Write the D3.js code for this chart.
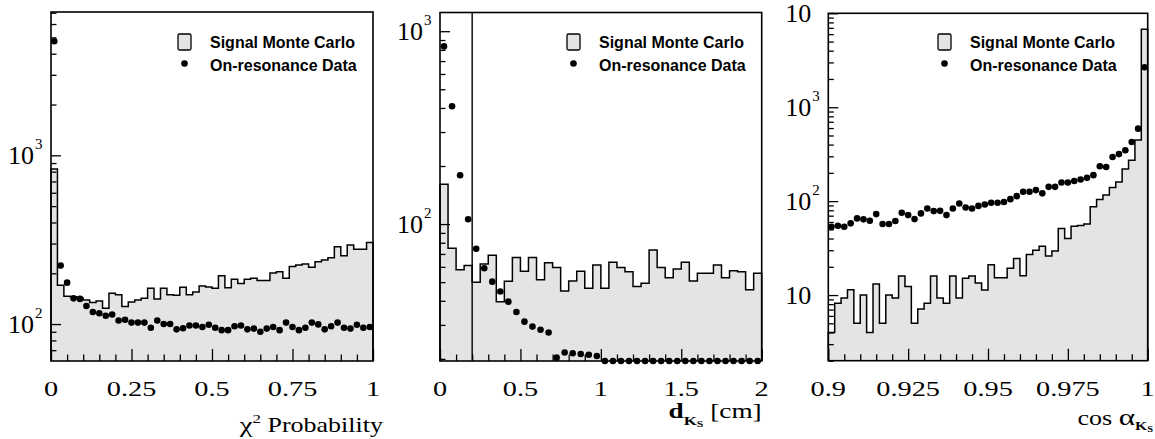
<!DOCTYPE html>
<html>
<head>
<meta charset="utf-8">
<script src="https://cdn.jsdelivr.net/npm/d3@7"></script>
<style>
  body { margin: 0; background: #fff; }
  svg { display: block; }
</style>
</head>
<body>
<script>
// chi2 probability: 50 bins on [0, 1]
const chiMC = [830, 170, 146, 145, 142, 139, 134, 137, 124, 152, 149, 127, 135, 139, 142, 163, 141, 163, 149, 148,
  165, 149, 155, 168, 166, 163, 193, 164, 184, 174, 184, 187, 181, 181, 201, 204, 187, 219, 224, 227,
  217, 234, 240, 247, 287, 254, 294, 278, 278, 304];
const chiData = [4740, 222, 176, 142, 141, 128, 118, 116, 112, 114, 105, 106, 102, 102, 102, 95, 105, 100, 100, 93,
  94.5, 98, 98, 96, 99, 95, 92, 92, 97, 98, 93, 94, 90, 94, 96, 92, 102, 96, 92, 95,
  102, 99.5, 93, 97, 102, 95, 94, 99, 95, 96];
const chiXTicks = [0, 0.25, 0.5, 0.75, 1];
const chiXLabels = ['0', '0.25', '0.5', '0.75', '1'];
const chiYTicks = [100, 1000];
const chiYLabels = [['10', '2'], ['10', '3']];

// d(Ks): 40 bins on [0, 2]
const dMC = [161, 75, 58, 61, 50, 62, 69, 39.5, 50.5, 67, 57, 67, 51.5, 63, 59.5, 45, 50.7, 57, 46.5, 61.4,
  46.5, 63.4, 59.5, 56.6, 47.4, 49.3, 73.4, 59.5, 52.7, 58.5, 63.4, 50.7, 55.6, 55.6, 61.4, 52.7, 57.3, 56.6, 45.6, 55.6];
const dData = [834, 408, 179, 106, 74.5, 59, 50.3, 44.7, 39.6, 35, 31.2, 29.4, 28.3, 27.4, 20.3, 21.6, 21.4, 21.2, 21, 20.7,
  0, 0, 0, 0, 0, 0, 0, 0, 0, 0, 0, 0, 0, 0, 0, 0, 0, 0, 0, 0];
const dXTicks = [0, 0.5, 1, 1.5, 2];
const dXLabels = ['0', '0.5', '1', '1.5', '2'];
const dYTicks = [100, 1000];
const dYLabels = [['10', '2'], ['10', '3']];
const dCut = 0.2;

// cos(alpha Ks): 50 bins on [0.9, 1]
const cosMC = [4.0, 8.2, 9.3, 11.4, 5.0, 10, 4.0, 13.1, 5.0, 10, 9.3, 16, 12.3, 5.0, 7.1, 8.2, 16, 9.3, 8.2, 16,
  9.3, 15.1, 16, 13.4, 11.3, 21, 15.3, 15.3, 19.3, 24.5, 16.1, 27, 30, 33, 26, 29.5, 51, 40, 54, 55,
  57, 87, 104, 116, 140, 160, 220, 272, 448, 6750];
const cosData = [53.4, 54.7, 53.4, 58, 65.5, 64, 61.8, 72.8, 57, 57, 61.4, 75.2, 71, 64.4, 74, 83.6, 78.3, 78.8, 71, 83.6,
  94.5, 85.7, 83.6, 89, 92, 96, 96, 98, 105, 113, 126, 126, 131, 121, 142, 142, 158, 158, 164, 170,
  177, 189, 235, 231, 295, 317, 348, 427, 591, 2665];
const cosXTicks = [0.9, 0.925, 0.95, 0.975, 1];
const cosXLabels = ['0.9', '0.925', '0.95', '0.975', '1'];
const cosYTicks = [10, 100, 1000, 10000];
const cosYLabels = [['10', ''], ['10', '2'], ['10', '3'], ['10', '']];

const legendLabels = ['Signal Monte Carlo', 'On-resonance Data'];

const serif = '"Liberation Serif", "Times New Roman", serif';
const sans = '"Liberation Sans", Arial, Helvetica, sans-serif';
const histFill = '#e4e4e4';

const svg = d3.select('body')
  .append('svg')
  .attr('width', 1155)
  .attr('height', 439);

const panels = [
  { left: 51, right: 373, top: 12, bottom: 361, xDomain: [0, 1], yDomain: [60.4, 7070],
    mc: chiMC, data: chiData, xTicks: chiXTicks, xLabels: chiXLabels, xMinor: 0.05,
    yTicks: chiYTicks, yLabels: chiYLabels, legendX: 178, title: 'chi' },
  { left: 440, right: 761.7, top: 12.5, bottom: 361, xDomain: [0, 2], yDomain: [19.5, 1250],
    mc: dMC, data: dData, xTicks: dXTicks, xLabels: dXLabels, xMinor: 0.1,
    yTicks: dYTicks, yLabels: dYLabels, legendX: 567, title: 'd', cut: dCut },
  { left: 828.3, right: 1147.7, top: 13.3, bottom: 360.7, xDomain: [0.9, 1], yDomain: [2, 10000],
    mc: cosMC, data: cosData, xTicks: cosXTicks, xLabels: cosXLabels, xMinor: 0.005,
    yTicks: cosYTicks, yLabels: cosYLabels, legendX: 938, title: 'cos' }
];

panels.forEach((p) => {
  const x = d3.scaleLinear().domain(p.xDomain).range([p.left, p.right]);
  const y = d3.scaleLog().domain(p.yDomain).range([p.bottom, p.top]).clamp(true);
  const nb = p.mc.length;
  const bw = (p.xDomain[1] - p.xDomain[0]) / nb;
  const lo = p.xDomain[0];
  const hi = p.xDomain[1];

  const g = svg.append('g');

  // histogram (step shape)
  const steps = p.mc.map((v, i) => ({ x: lo + i * bw, v: v }));
  const outline = [{ x: lo, v: p.yDomain[0] }].concat(steps, [{ x: hi, v: p.mc[nb - 1] }, { x: hi, v: p.yDomain[0] }]);

  g.append('path')
    .datum(steps.concat([{ x: hi, v: p.mc[nb - 1] }]))
    .attr('d', d3.area()
      .x((d) => x(d.x))
      .y0(p.bottom)
      .y1((d) => y(d.v))
      .curve(d3.curveStepAfter))
    .style('fill', histFill)
    .style('stroke', 'none');

  g.append('path')
    .datum(outline)
    .attr('d', d3.line()
      .x((d) => x(d.x))
      .y((d) => y(d.v))
      .curve(d3.curveStepAfter))
    .style('fill', 'none')
    .style('stroke', '#000')
    .style('stroke-width', 1.5);

  // frame
  g.append('rect')
    .attr('x', p.left)
    .attr('y', p.top)
    .attr('width', p.right - p.left)
    .attr('height', p.bottom - p.top)
    .style('fill', 'none')
    .style('stroke', '#000')
    .style('stroke-width', 1.6);

  // x ticks (inward)
  const xMinorVals = d3.range(lo, hi + bw / 10, p.xMinor).filter((v) => !p.xTicks.some((t) => Math.abs(t - v) < 1e-9));
  g.append('g')
    .attr('transform', 'translate(0,' + p.bottom + ')')
    .call(d3.axisBottom(x).tickValues(xMinorVals).tickSize(-6.5).tickFormat(''))
    .call((a) => a.select('.domain').remove());
  g.append('g')
    .attr('transform', 'translate(0,' + p.bottom + ')')
    .call(d3.axisBottom(x).tickValues(p.xTicks).tickSize(-12).tickFormat(''))
    .call((a) => a.select('.domain').remove());

  // y ticks (inward)
  const yMinorVals = y.ticks().filter((v) => !p.yTicks.includes(v) && v >= p.yDomain[0] && v <= p.yDomain[1]);
  g.append('g')
    .attr('transform', 'translate(' + p.left + ',0)')
    .call(d3.axisLeft(y).tickValues(yMinorVals).tickSize(-5.5).tickFormat(''))
    .call((a) => a.select('.domain').remove());
  g.append('g')
    .attr('transform', 'translate(' + p.left + ',0)')
    .call(d3.axisLeft(y).tickValues(p.yTicks).tickSize(-10).tickFormat(''))
    .call((a) => a.select('.domain').remove());

  g.selectAll('.tick line').style('stroke', '#000').style('stroke-width', 1.3);

  // x tick labels
  g.selectAll('.xlab')
    .data(p.xTicks)
    .enter()
    .append('g')
    .attr('transform', (d) => 'translate(' + x(d) + ',396) scale(1.35,1)')
    .append('text')
    .attr('text-anchor', 'middle')
    .style('font-family', serif)
    .style('font-size', '21px')
    .text((d, i) => p.xLabels[i]);

  // y tick labels 10^n
  const yl = g.selectAll('.ylab')
    .data(p.yTicks)
    .enter()
    .append('g');
  yl.append('text')
    .attr('x', p.left - 17)
    .attr('y', (d) => y(d) + 8.5)
    .attr('text-anchor', 'end')
    .style('font-family', serif)
    .style('font-size', '26px')
    .text((d, i) => p.yLabels[i][0]);
  yl.append('text')
    .attr('x', p.left - 16)
    .attr('y', (d) => y(d) - 6.5)
    .style('font-family', serif)
    .style('font-size', '15px')
    .text((d, i) => p.yLabels[i][1]);

  // cut line
  if (p.cut !== undefined) {
    g.append('line')
      .attr('x1', x(p.cut))
      .attr('x2', x(p.cut))
      .attr('y1', p.top)
      .attr('y2', p.bottom)
      .style('stroke', '#000')
      .style('stroke-width', 1.4);
  }

  // data points
  g.append('g')
    .selectAll('circle')
    .data(p.data)
    .enter()
    .append('circle')
    .attr('cx', (d, i) => x(lo + (i + 0.5) * bw))
    .attr('cy', (d) => y(d))
    .attr('r', 3.3)
    .style('fill', '#000');

  // legend
  const lg = g.append('g');
  lg.append('rect')
    .attr('x', p.legendX)
    .attr('y', 34)
    .attr('width', 13)
    .attr('height', 16)
    .attr('rx', 1.5)
    .style('fill', histFill)
    .style('stroke', '#000')
    .style('stroke-width', 1.3);
  lg.append('circle')
    .attr('cx', p.legendX + 6.5)
    .attr('cy', 63.5)
    .attr('r', 3.3)
    .style('fill', '#000');
  lg.selectAll('text')
    .data(legendLabels)
    .enter()
    .append('text')
    .attr('x', p.legendX + 32)
    .attr('y', (d, i) => 47.5 + i * 23)
    .style('font-family', sans)
    .style('font-weight', 'bold')
    .style('font-size', '16px')
    .text((d) => d);

  // axis titles
  if (p.title === 'chi') {
    const t = g.append('g')
      .attr('transform', 'translate(383,432) scale(1.3,1)')
      .append('text')
      .attr('text-anchor', 'end')
      .style('font-family', serif)
      .style('font-size', '20px');
    t.append('tspan').style('font-size', '22px').text('χ');
    t.append('tspan').attr('dy', -9).style('font-size', '13px').text('2');
    t.append('tspan').attr('dy', 9).text(' Probability');
  } else if (p.title === 'd') {
    const t = g.append('g')
      .attr('transform', 'translate(761.7,418) scale(1.3,1)')
      .append('text')
      .attr('text-anchor', 'end')
      .style('font-family', serif)
      .style('font-size', '21px');
    t.append('tspan').style('font-weight', 'bold').text('d');
    t.append('tspan').attr('dy', 7).style('font-size', '13px').style('font-weight', 'bold').text('K');
    t.append('tspan').attr('dy', 2).style('font-size', '9px').style('font-weight', 'bold').text('S');
    t.append('tspan').attr('dy', -9).text(' [cm]');
  } else {
    const t = g.append('g')
      .attr('transform', 'translate(1153,425) scale(1.3,1)')
      .append('text')
      .attr('text-anchor', 'end')
      .style('font-family', serif)
      .style('font-size', '20px');
    t.append('tspan').text('cos ');
    t.append('tspan').style('font-size', '24px').text('α');
    t.append('tspan').attr('dy', 5).style('font-size', '12px').style('font-weight', 'bold').text('K');
    t.append('tspan').attr('dy', 2).style('font-size', '8px').style('font-weight', 'bold').text('S');
  }
});
</script>
</body>
</html>
